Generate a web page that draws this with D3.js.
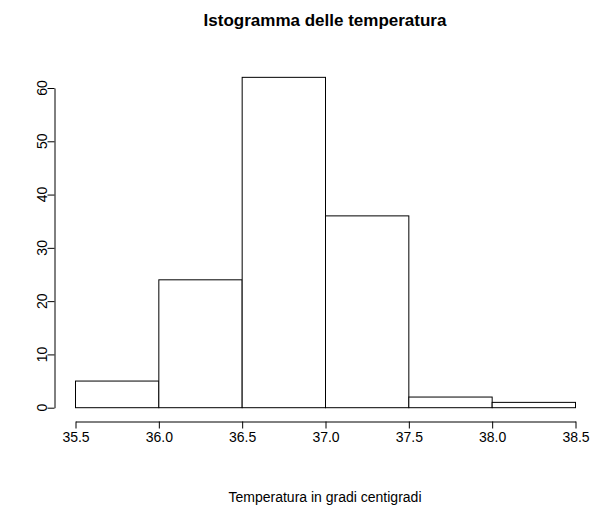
<!DOCTYPE html>
<html>
<head>
<meta charset="utf-8">
<script src="https://cdn.jsdelivr.net/npm/d3@7"></script>
<style>
body{margin:0;background:#fff;}
svg{display:block;font-family:"Liberation Sans",Arial,Helvetica,sans-serif;}
</style>
</head>
<body>
<svg id="chart" width="593" height="512"></svg>
<script>
const breaks = [35.5, 36.0, 36.5, 37.0, 37.5, 38.0, 38.5];
const counts = [5, 24, 62, 36, 2, 1];
const xTicks = [35.5, 36.0, 36.5, 37.0, 37.5, 38.0, 38.5];
const yTicks = [0, 10, 20, 30, 40, 50, 60];
const title = "Istogramma delle temperatura";
const xLabel = "Temperatura in gradi centigradi";

const svg = d3.select("#chart");
const x = d3.scaleLinear().domain([35.5, 38.5]).range([75, 575]);
const y = d3.scaleLinear().domain([0, 60]).range([407.7, 88]);

const bins = counts.map((c, i) => ({x0: breaks[i], x1: breaks[i + 1], n: c}));

svg.append("g").selectAll("rect").data(bins).join("rect")
  .attr("x", d => x(d.x0) + 0.5)
  .attr("y", d => y(d.n))
  .attr("width", d => x(d.x1) - x(d.x0))
  .attr("height", d => y(0) - y(d.n))
  .attr("fill", "#fff")
  .attr("stroke", "#000")
  .attr("stroke-width", 1);

// x axis
const xa = svg.append("g").attr("transform", "translate(0.5,421.5)")
  .call(d3.axisBottom(x).tickValues(xTicks).tickFormat(d3.format(".1f")).tickSizeOuter(0).tickSizeInner(7).tickPadding(4));
xa.selectAll("text").attr("font-size", 14).attr("fill", "#000").attr("font-family", "Liberation Sans, Arial, sans-serif");
xa.selectAll("line,path").attr("stroke", "#000");

// y axis
const ya = svg.append("g").attr("transform", "translate(54.5,0)")
  .call(d3.axisLeft(y).tickValues(yTicks).tickSizeOuter(0).tickSizeInner(7));
ya.selectAll("text").remove();
ya.selectAll("line,path").attr("stroke", "#000");
svg.append("g").selectAll("text").data(yTicks).join("text")
  .attr("transform", d => `translate(47,${y(d)}) rotate(-90)`)
  .attr("text-anchor", "middle")
  .attr("font-size", 14)
  .text(d => d);

svg.append("text").attr("x", 325).attr("y", 26).attr("text-anchor", "middle")
  .attr("font-size", 17).attr("font-weight", "bold").text(title);
svg.append("text").attr("x", 325).attr("y", 502).attr("text-anchor", "middle")
  .attr("font-size", 14).text(xLabel);
</script>
</body>
</html>
